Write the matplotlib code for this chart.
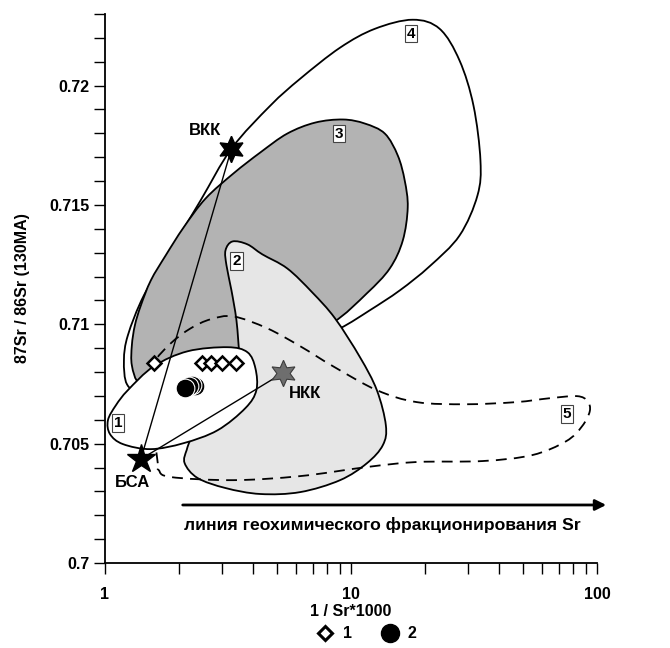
import numpy as np
import matplotlib
matplotlib.use("Agg")
from matplotlib import pyplot as plt
from matplotlib.path import Path
from matplotlib.patches import PathPatch
from matplotlib.lines import Line2D
from matplotlib.ticker import FuncFormatter, MultipleLocator, LogLocator, NullFormatter

plt.rcParams["font.family"] = ["Liberation Sans", "DejaVu Sans"]
plt.rcParams["font.weight"] = "bold"
plt.rcParams["axes.labelweight"] = "bold"

# field outlines, (1/Sr*1000, 87Sr/86Sr), traced clockwise
field1_x = [1.028, 1.108, 1.239, 1.579, 2.168, 3.147, 3.793, 4.087, 4.125, 3.723, 2.868, 2.088, 1.536, 1.183, 1.048]
field1_y = [0.70598, 0.70661, 0.70724, 0.70824, 0.70887, 0.70904, 0.70883, 0.70816, 0.70724, 0.70649,
            0.70556, 0.70502, 0.70477, 0.70498, 0.70540]

field2_x = [3.298, 3.793, 4.362, 5.507, 6.953, 8.61, 10.88, 12.74, 13.86, 13.48, 11.61, 9.03, 6.22, 4.281,
            3.090, 2.379, 2.108, 2.148, 2.271, 2.73, 3.553, 3.829, 3.553, 3.423, 3.267, 3.118, 3.090]
field2_y = [0.71347, 0.71335, 0.71293, 0.71234, 0.71134, 0.71025, 0.70862, 0.70724, 0.70577, 0.70494,
            0.70418, 0.70347, 0.70297, 0.70289, 0.70314, 0.70356, 0.70418, 0.70473, 0.70523, 0.70565,
            0.70703, 0.70799, 0.70853, 0.71017, 0.71142, 0.71247, 0.71310]

field3_x = [9.28, 11.39, 13.73, 15.50, 16.54, 17.01, 16.24, 14.38, 11.61, 8.46, 5.66, 3.553, 2.229, 1.609,
            1.373, 1.286, 1.286, 1.323, 1.399, 1.536, 1.766, 2.088, 2.564, 3.328, 4.281, 5.507, 7.151]
field3_y = [0.71858, 0.71841, 0.71799, 0.71707, 0.71602, 0.71490, 0.71351, 0.71234, 0.71130, 0.71008,
            0.70933, 0.70883, 0.70833, 0.70787, 0.70757, 0.70828, 0.70912, 0.70996, 0.71079, 0.71184,
            0.71289, 0.71406, 0.71527, 0.71632, 0.71720, 0.71799, 0.71845]

field4_x = [17.82, 22.93, 27.63, 31.48, 33.60, 32.68, 27.63, 20.88, 15.79, 11.94, 9.03, 6.22, 3.553, 2.031,
            1.399, 1.228, 1.194, 1.239, 1.439, 1.850, 2.447, 3.267, 4.699, 6.22, 9.03, 12.51]
field4_y = [0.72276, 0.72238, 0.72105, 0.71916, 0.71686, 0.71540, 0.71372, 0.71243, 0.71142, 0.71059,
            0.70983, 0.70908, 0.70828, 0.70774, 0.70724, 0.70749, 0.70849, 0.70954, 0.71121, 0.71310,
            0.71519, 0.71736, 0.71916, 0.72029, 0.72159, 0.72238]

field5_x = [1.639, 1.564, 1.536, 1.579, 1.850, 2.229, 2.687, 3.328, 4.571, 6.22, 8.46, 12.74, 18.50, 29.49,
            47.00, 63.92, 82.99, 91.5, 93.5, 87.0, 74.91, 54.56, 34.22, 18.50, 11.61, 6.22, 3.328, 1.850, 1.654]
field5_y = [0.70418, 0.70598, 0.70745, 0.70837, 0.70920, 0.70983, 0.71021, 0.71033, 0.70983, 0.70908,
            0.70824, 0.70724, 0.70674, 0.70665, 0.70674, 0.70690, 0.70699, 0.70678, 0.70636, 0.70573,
            0.70510, 0.70452, 0.70427, 0.70423, 0.70402, 0.70364, 0.70347, 0.70360, 0.70389]

field_labels = ["1", "2", "3", "4", "5"]
field_label_x = [1.129, 3.423, 8.94, 17.50, 75.6]
field_label_y = [0.70586, 0.71264, 0.71799, 0.72218, 0.70623]

# end members
members = ["БСА", "ВКК", "НКК"]
members_x = [1.399, 3.267, 5.29]
members_y = [0.70435, 0.71736, 0.70796]

# samples
group1_x = [1.584, 2.47, 2.704, 2.995, 3.41]
group1_y = [0.70837, 0.70837, 0.70837, 0.70837, 0.70837]
group2_x = [2.108, 2.188, 2.250, 2.314]
group2_y = [0.70732, 0.70741, 0.70745, 0.70741]

arrow_text = "линия геохимического фракционирования Sr"


def closed_curve(xs, ys):
    # smooth closed outline as cubic bezier, built in log-x space
    p = np.column_stack([np.log10(xs), ys])
    n = len(p)
    verts = [p[0]]
    codes = [Path.MOVETO]
    for i in range(n):
        p0, p1, p2, p3 = p[i - 1], p[i], p[(i + 1) % n], p[(i + 2) % n]
        verts += [p1 + (p2 - p0) / 6, p2 - (p3 - p1) / 6, p2]
        codes += [Path.CURVE4] * 3
    verts.append(p[0])
    codes.append(Path.CLOSEPOLY)
    verts = np.array(verts)
    verts[:, 0] = 10 ** verts[:, 0]
    return Path(verts, codes)


fig = plt.figure(figsize=(6.7, 6.48), dpi=100)
ax = fig.add_axes([0.1567, 0.1312, 0.7343, 0.8472])
ax.set_xscale("log")
ax.set_xlim(1, 100)
ax.set_ylim(0.7, 0.723)

ax.add_patch(PathPatch(closed_curve(field4_x, field4_y), facecolor="white", edgecolor="black", lw=1.3, zorder=1))
ax.add_patch(PathPatch(closed_curve(field3_x, field3_y), facecolor="#b3b3b3", edgecolor="black", lw=1.3, zorder=2))
ax.add_patch(PathPatch(closed_curve(field2_x, field2_y), facecolor="#e6e6e6", edgecolor="black", lw=1.3, zorder=3))
ax.add_patch(PathPatch(closed_curve(field5_x, field5_y), fill=False, edgecolor="black", lw=1.3,
                       linestyle=(0, (6, 4)), zorder=4))
ax.add_patch(PathPatch(closed_curve(field1_x, field1_y), facecolor="white", edgecolor="black", lw=1.3, zorder=5))

for lx, ly, lt in zip(field_label_x, field_label_y, field_labels):
    ax.text(lx, ly, lt, fontsize=11, ha="center", va="center", zorder=9,
            bbox=dict(boxstyle="square,pad=0.12", facecolor="white", edgecolor="#444444", lw=0.8))

# mixing lines from БСА
for k in (1, 2):
    ax.plot([members_x[0], members_x[k]], [members_y[0], members_y[k]], color="black", lw=1.0, zorder=6)

ax.plot(group1_x, group1_y, linestyle="none", marker="D", ms=6.8, mfc="white", mec="black", mew=1.8, zorder=7)
ax.plot(group2_x[::-1], group2_y[::-1], linestyle="none", marker="o", ms=13.5, mfc="black", mec="white",
        mew=0.8, zorder=7)

ax.plot(members_x[0], members_y[0], marker="*", ms=21, color="black", zorder=8)
ax.plot(members_x[1], members_y[1], marker=(6, 1, 0), ms=19, color="black", zorder=8)
ax.plot(members_x[2], members_y[2], marker=(6, 1, 0), ms=19, mfc="#6e6e6e", mec="#3c3c3c", mew=0.8, zorder=8)

offsets = [(-6, -17), (-19, 13), (16, -15)]
for name, mx, my, off in zip(members, members_x, members_y, offsets):
    ax.annotate(name, (mx, my), xytext=off, textcoords="offset points", fontsize=12,
                ha="center", va="center", zorder=9)

ax.annotate("", xy=(109, 0.70243), xytext=(2.07, 0.70243), annotation_clip=False,
            arrowprops=dict(arrowstyle="-|>", lw=2, color="black", mutation_scale=16, shrinkA=0, shrinkB=0))
ax.text(2.1, 0.70159, arrow_text, fontsize=12.6, ha="left", va="center")

for side in ("top", "right"):
    ax.spines[side].set_visible(False)
for side in ("left", "bottom"):
    ax.spines[side].set_linewidth(1.3)

ax.yaxis.set_major_locator(MultipleLocator(0.005))
ax.yaxis.set_minor_locator(MultipleLocator(0.001))
ax.yaxis.set_major_formatter(FuncFormatter(lambda v, _: f"{v:g}"))
ax.xaxis.set_major_locator(LogLocator(base=10))
ax.xaxis.set_minor_locator(LogLocator(base=10, subs=np.arange(2, 10)))
ax.xaxis.set_major_formatter(FuncFormatter(lambda v, _: f"{v:g}"))
ax.xaxis.set_minor_formatter(NullFormatter())
ax.tick_params(which="both", direction="out", length=8, width=1.0, labelsize=11.5)
ax.tick_params(axis="x", pad=9)
ax.tick_params(axis="y", pad=3)

ax.set_xlabel("1 / Sr*1000", fontsize=11.5, labelpad=2)
ax.set_ylabel("87Sr / 86Sr (130MA)", fontsize=11.5, labelpad=14)

handles = [Line2D([], [], linestyle="none", marker="D", ms=7.5, mfc="white", mec="black", mew=2.2),
           Line2D([], [], linestyle="none", marker="o", ms=13, mfc="black", mec="black")]
fig.legend(handles, ["1", "2"], loc="center", bbox_to_anchor=(366 / 670, 1 - 634 / 648), ncol=2,
           frameon=False, fontsize=11.5, handletextpad=0.5, columnspacing=1.8, handlelength=1.2)

fig.savefig("out.png", dpi=100)
